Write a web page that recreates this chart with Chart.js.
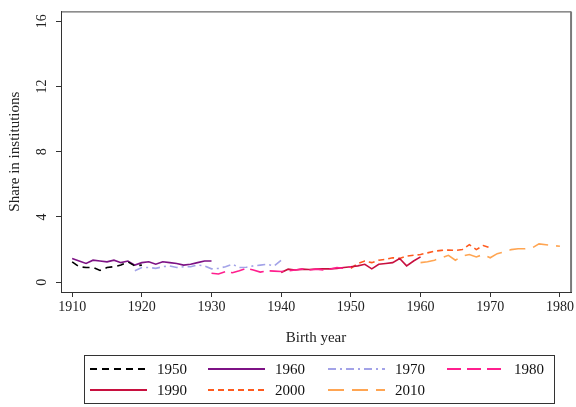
<!DOCTYPE html>
<html><head><meta charset="utf-8">
<script src="https://cdn.jsdelivr.net/npm/chart.js@4/dist/chart.umd.min.js"></script>
<style>
html,body{margin:0;padding:0;background:#fff;}
#wrap{position:relative;width:576px;height:407px;}
#legend{position:absolute;left:84px;top:355px;width:471px;height:49px;border:1px solid #333;box-sizing:border-box;font-family:"Liberation Serif",serif;font-size:15px;color:#111;}
.item{position:absolute;height:20px;}
.item canvas{position:absolute;left:0;top:7px;}
.item span{position:absolute;left:67px;top:0;line-height:20px;white-space:nowrap;}
</style></head><body>
<div id="wrap"><canvas id="c" width="576" height="407"></canvas><div id="legend"></div></div>
<script>
// ---- data ----
const seriesNames = ['1950','1960','1970','1980','1990','2000','2010'];
const startYears = [1910, 1910, 1919, 1930, 1940, 1950, 1960];
const s1950 = [1.25, 0.95, 0.9, 0.9, 0.72, 0.9, 0.95, 1.05, 1.25, 1.0, 1.05];
const s1960 = [1.45, 1.3, 1.15, 1.35, 1.3, 1.25, 1.35, 1.2, 1.3, 1.05, 1.2, 1.25, 1.1, 1.25, 1.2, 1.15, 1.05, 1.1, 1.2, 1.3, 1.3];
const s1970 = [0.7, 0.9, 0.9, 0.85, 0.95, 1.0, 0.9, 0.95, 0.95, 1.05, 1.0, 0.82, 0.85, 0.95, 1.1, 0.9, 0.92, 1.0, 1.05, 1.1, 1.0, 1.35];
const s1980 = [0.55, 0.5, 0.65, 0.58, 0.7, 0.85, 0.75, 0.62, 0.7, 0.68, 0.66, 0.7, 0.75, 0.8, 0.75, 0.8, 0.75, 0.8, 0.9, 0.85, 0.95];
const s1990 = [0.6, 0.8, 0.75, 0.8, 0.78, 0.8, 0.82, 0.82, 0.85, 0.9, 0.95, 1.0, 1.1, 0.82, 1.1, 1.15, 1.2, 1.45, 1.0, 1.3, 1.55];
const s2000 = [0.85, 1.15, 1.3, 1.2, 1.35, 1.4, 1.5, 1.45, 1.6, 1.65, 1.7, 1.8, 1.9, 1.95, 1.97, 1.95, 2.0, 2.3, 2.0, 2.25, 2.1];
const s2010 = [1.2, 1.25, 1.35, 1.5, 1.65, 1.35, 1.6, 1.7, 1.55, 1.7, 1.5, 1.75, 1.85, 2.0, 2.05, 2.05, 2.1, 2.35, 2.3, 2.25, 2.2];
const xTicks = [1910, 1920, 1930, 1940, 1950, 1960, 1970, 1980];
const yTicks = [0, 4, 8, 12, 16];

// ---- styles ----
const allValues = [s1950, s1960, s1970, s1980, s1990, s2000, s2010];
const colors = ['#000000', '#7d1285', '#a3a3e8', '#ff1f8e', '#c8103f', '#ff5a1e', '#ffa552'];
const dashes = [[7,5], [], [8,4,2,4], [14,6], [], [6,4], [16,8]];
const FONT = '"Liberation Serif", "Times New Roman", serif';

const datasets = seriesNames.map((name, i) => ({
  label: name,
  data: allValues[i].map((v, k) => ({x: startYears[i] + k, y: v})),
  borderColor: colors[i],
  backgroundColor: colors[i],
  borderDash: dashes[i],
  borderWidth: 1.6,
  pointRadius: 0,
  tension: 0,
  fill: false
}));

const yLabelPlugin = {
  id: 'yLabels',
  afterDraw(chart) {
    const ctx = chart.ctx, ys = chart.scales.y, a = chart.chartArea;
    ctx.save();
    ctx.font = '14px ' + FONT;
    ctx.fillStyle = '#222';
    ctx.textAlign = 'center';
    ctx.textBaseline = 'middle';
    ys.ticks.forEach(t => {
      const py = ys.getPixelForValue(t.value);
      ctx.save();
      ctx.translate(a.left - 19, py);
      ctx.rotate(-Math.PI / 2);
      ctx.fillText(String(t.value), 0, 0);
      ctx.restore();
    });
    // frame: top and right
    ctx.strokeStyle = '#444';
    ctx.lineWidth = 1;
    ctx.beginPath();
    ctx.moveTo(a.left, a.top + 0.5);
    ctx.lineTo(a.right, a.top + 0.5);
    ctx.stroke();
    ctx.strokeStyle = '#7a7a7a';
    ctx.lineWidth = 2;
    ctx.beginPath();
    ctx.moveTo(a.right, a.top);
    ctx.lineTo(a.right, a.bottom);
    ctx.stroke();
    ctx.restore();
  }
};

const chart = new Chart(document.getElementById('c'), {
  type: 'line',
  data: {datasets},
  options: {
    responsive: false,
    animation: false,
    devicePixelRatio: 1,
    layout: {padding: {top: 4, right: 4, left: 0, bottom: 0}},
    plugins: {legend: {display: false}, tooltip: {enabled: false}},
    scales: {
      x: {
        type: 'linear',
        min: 1908.4,
        max: 1981.6,
        afterBuildTicks: s => { s.ticks = xTicks.map(v => ({value: v})); },
        afterFit: s => { s.height = 115; },
        grid: {drawOnChartArea: false, drawTicks: true, tickLength: 5, color: '#333'},
        border: {color: '#333', width: 1},
        ticks: {color: '#222', font: {family: FONT, size: 14}, maxRotation: 0, padding: 2,
                callback: v => String(v)},
        title: {display: true, text: 'Birth year', color: '#222',
                font: {family: FONT, size: 15}, padding: {top: 0, bottom: 60}}
      },
      y: {
        type: 'linear',
        min: -0.6,
        max: 16.6,
        afterBuildTicks: s => { s.ticks = yTicks.map(v => ({value: v})); },
        afterFit: s => { s.width = 61; },
        grid: {drawOnChartArea: false, drawTicks: true, tickLength: 5, color: '#333'},
        border: {color: '#333', width: 1},
        ticks: {color: 'rgba(0,0,0,0)', font: {family: FONT, size: 14}},
        title: {display: true, text: 'Share in institutions', color: '#222',
                font: {family: FONT, size: 15}, padding: {top: 6, bottom: 0}}
      }
    }
  },
  plugins: [yLabelPlugin]
});

// ---- legend (built from the chart datasets) ----
const legend = document.getElementById('legend');
const colX = [5, 123, 243, 362];
const rowY = [3, 24];
chart.data.datasets.forEach((ds, i) => {
  const item = document.createElement('div');
  item.className = 'item';
  item.style.left = colX[i % 4] + 'px';
  item.style.top = rowY[Math.floor(i / 4)] + 'px';
  const cv = document.createElement('canvas');
  cv.width = 57; cv.height = 6;
  const c = cv.getContext('2d');
  c.strokeStyle = ds.borderColor;
  c.lineWidth = 1.8;
  c.setLineDash(ds.borderDash);
  c.beginPath(); c.moveTo(0, 3); c.lineTo(57, 3); c.stroke();
  const sp = document.createElement('span');
  sp.textContent = ds.label;
  item.appendChild(cv); item.appendChild(sp);
  legend.appendChild(item);
});
</script>
</body></html>
